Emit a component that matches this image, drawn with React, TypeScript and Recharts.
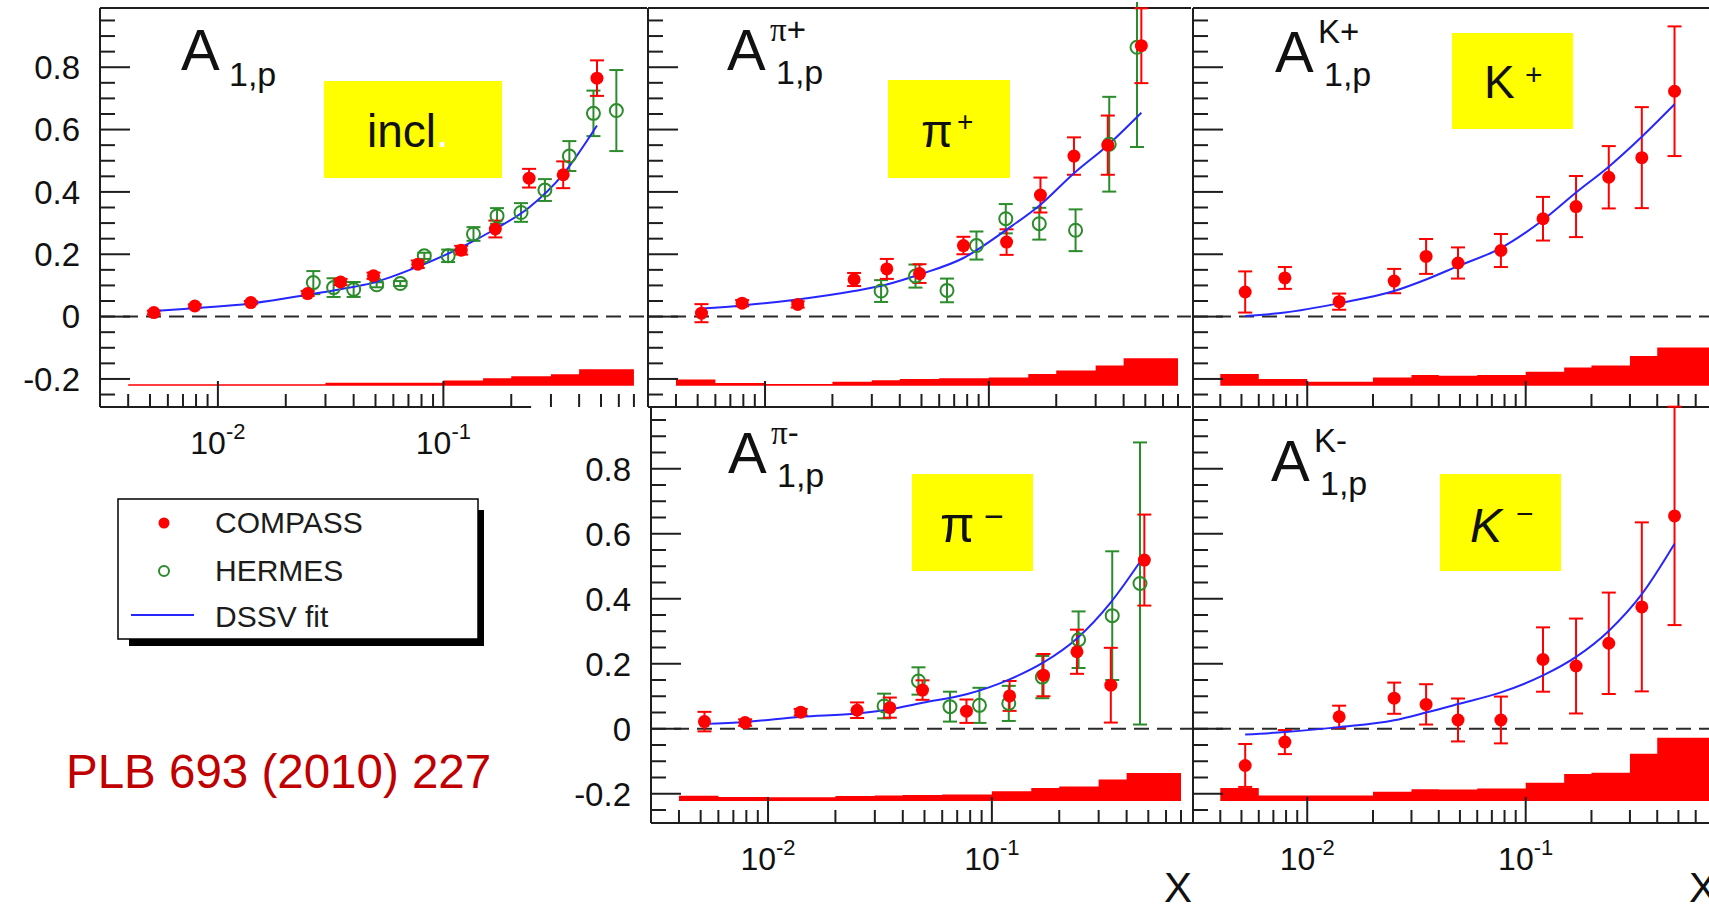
import React from "react";
import {
  ComposedChart,
  XAxis,
  YAxis,
  Scatter,
  Line,
  Area,
  ErrorBar,
  ReferenceLine,
} from "recharts";

const FONT = "'Liberation Sans', Arial, Helvetica, sans-serif";
const SERIF = "'Liberation Serif', 'Times New Roman', serif";
const RED = "#ff0000";
const GREEN = "#2b8c2b";
const BLUE = "#2626ff";
const AXIS = "#1e1e1e";
const INK = "#111111";

// axis setup shared by all panels
const X_DOMAIN = [0.003, 0.8];
const Y_DOMAIN = [-0.29, 0.99];
const Y_TICKS = [
  -0.25, -0.2, -0.15, -0.1, -0.05, 0, 0.05, 0.1, 0.15, 0.2, 0.25, 0.3, 0.35,
  0.4, 0.45, 0.5, 0.55, 0.6, 0.65, 0.7, 0.75, 0.8, 0.85, 0.9, 0.95,
];
const Y_MAJOR = [-0.2, 0, 0.2, 0.4, 0.6, 0.8];
const X_TICKS = [
  0.004, 0.005, 0.006, 0.007, 0.008, 0.009, 0.01, 0.02, 0.03, 0.04, 0.05,
  0.06, 0.07, 0.08, 0.09, 0.1, 0.2, 0.3, 0.4, 0.5, 0.6, 0.7,
];
const X_MAJOR = [0.01, 0.1];
const X_EXP = ["-2", "-1"];

// x bins
const COMPASS_X = [0.0052, 0.0079, 0.014, 0.025, 0.035, 0.049, 0.077, 0.12, 0.17, 0.24, 0.34, 0.48];
const HERMES_X_INCL = [0.0265, 0.0326, 0.04, 0.0506, 0.0644, 0.0823, 0.105, 0.136, 0.173, 0.221, 0.282, 0.362, 0.463, 0.585];
const HERMES_X_HAD = [0.033, 0.047, 0.065, 0.088, 0.119, 0.168, 0.244, 0.345, 0.459];
const SYS_EDGES = [0.004, 0.006, 0.01, 0.02, 0.03, 0.04, 0.06, 0.1, 0.15, 0.2, 0.3, 0.4, 0.7];
const SYS_BASE = -0.222;

// inclusive A1p
const INCL_C = [0.013, 0.034, 0.045, 0.074, 0.111, 0.131, 0.168, 0.213, 0.281, 0.444, 0.455, 0.765];
const INCL_C_ERR = [0.006, 0.005, 0.005, 0.008, 0.01, 0.01, 0.012, 0.014, 0.027, 0.03, 0.043, 0.057];
const INCL_H = [0.109, 0.093, 0.087, 0.102, 0.106, 0.195, 0.195, 0.265, 0.323, 0.334, 0.406, 0.515, 0.652, 0.661];
const INCL_H_ERR = [0.037, 0.03, 0.024, 0.008, 0.008, 0.01, 0.02, 0.022, 0.025, 0.03, 0.035, 0.048, 0.073, 0.13];
const INCL_FIT = [0.018, 0.027, 0.042, 0.07, 0.088, 0.109, 0.16, 0.222, 0.281, 0.35, 0.457, 0.613];
const INCL_SYS = [-0.217, -0.217, -0.217, -0.217, -0.212, -0.212, -0.212, -0.205, -0.198, -0.191, -0.185, -0.169];

// pi+
const PIP_C = [0.011, 0.043, 0.039, 0.119, 0.153, 0.138, 0.228, 0.239, 0.39, 0.515, 0.55, 0.869];
const PIP_C_ERR = [0.029, 0.01, 0.01, 0.021, 0.032, 0.03, 0.028, 0.041, 0.056, 0.06, 0.095, 0.12];
const PIP_H = [0.082, 0.13, 0.084, 0.228, 0.314, 0.298, 0.277, 0.553, 0.864];
const PIP_H_ERR = [0.035, 0.037, 0.038, 0.045, 0.047, 0.051, 0.067, 0.152, 0.32];
const PIP_FIT = [0.026, 0.036, 0.055, 0.082, 0.103, 0.135, 0.188, 0.279, 0.359, 0.46, 0.55, 0.654];
const PIP_SYS = [-0.202, -0.213, -0.216, -0.209, -0.204, -0.2, -0.198, -0.195, -0.184, -0.173, -0.157, -0.134];

// K+
const KP_C = [0.079, 0.124, 0.048, 0.114, 0.193, 0.172, 0.212, 0.314, 0.353, 0.447, 0.51, 0.723];
const KP_C_ERR = [0.066, 0.035, 0.026, 0.039, 0.056, 0.05, 0.053, 0.07, 0.098, 0.1, 0.162, 0.208];
const KP_FIT = [0.002, 0.013, 0.043, 0.082, 0.119, 0.162, 0.22, 0.31, 0.398, 0.481, 0.577, 0.681];
const KP_SYS = [-0.184, -0.2, -0.209, -0.195, -0.187, -0.19, -0.187, -0.177, -0.163, -0.157, -0.126, -0.099];

// pi-
const PIM_C = [0.022, 0.019, 0.051, 0.057, 0.065, 0.119, 0.054, 0.101, 0.165, 0.237, 0.134, 0.519];
const PIM_C_ERR = [0.03, 0.01, 0.01, 0.024, 0.031, 0.03, 0.036, 0.046, 0.065, 0.068, 0.115, 0.14];
const PIM_H = [0.07, 0.147, 0.068, 0.072, 0.078, 0.159, 0.274, 0.348, 0.447];
const PIM_H_ERR = [0.038, 0.042, 0.046, 0.054, 0.054, 0.065, 0.087, 0.198, 0.434];
const PIM_FIT = [0.015, 0.021, 0.037, 0.047, 0.06, 0.08, 0.106, 0.152, 0.204, 0.278, 0.389, 0.533];
const PIM_SYS = [-0.206, -0.21, -0.211, -0.207, -0.205, -0.204, -0.202, -0.192, -0.182, -0.178, -0.156, -0.136];

// K-
const KM_C = [-0.113, -0.041, 0.037, 0.094, 0.075, 0.027, 0.027, 0.213, 0.193, 0.263, 0.375, 0.655];
const KM_C_ERR = [0.066, 0.037, 0.034, 0.048, 0.062, 0.066, 0.072, 0.099, 0.146, 0.156, 0.26, 0.336];
const KM_FIT = [-0.018, -0.01, 0.005, 0.026, 0.05, 0.076, 0.112, 0.164, 0.221, 0.301, 0.414, 0.569];
const KM_SYS = [-0.182, -0.205, -0.205, -0.194, -0.186, -0.187, -0.184, -0.166, -0.139, -0.135, -0.077, -0.028];

const Y_W = 90;
const X_H = 70;
const M_T = 6;
const M_R = 6;

const pts = (xs: number[], ys: number[], errs: number[]) =>
  xs.map((x, i) => ({ x, y: ys[i], err: errs[i] }));
const curve = (xs: number[], ys: number[]) => xs.map((x, i) => ({ x, y: ys[i] }));
const steps = (vals: number[]) =>
  SYS_EDGES.map((x, i) => ({ x, y: vals[Math.min(i, vals.length - 1)] }));

function YTick(props: any) {
  const { x, y, payload, showLabel } = props;
  const v = payload.value;
  const major = Y_MAJOR.some((m) => Math.abs(m - v) < 1e-6);
  return (
    <g>
      <line x1={x} x2={x + (major ? 30 : 15)} y1={y} y2={y} stroke={AXIS} strokeWidth={2} />
      {showLabel && major && (
        <text x={x - 20} y={y} dy="0.36em" textAnchor="end" fontSize={33} fontFamily={FONT} fill={INK}>
          {v === 0 ? "0" : String(v)}
        </text>
      )}
    </g>
  );
}

function XTick(props: any) {
  const { x, y, payload, showLabel } = props;
  const v = payload.value;
  const k = X_MAJOR.findIndex((m) => Math.abs(m - v) < 1e-9);
  const major = k >= 0;
  return (
    <g>
      <line x1={x} x2={x} y1={y} y2={y - (major ? 26 : 13)} stroke={AXIS} strokeWidth={2} />
      {showLabel && major && (
        <text x={x} y={y + 47} textAnchor="middle" fontSize={32} fontFamily={FONT} fill={INK}>
          <tspan>10</tspan>
          <tspan dy={-15} fontSize={22}>{X_EXP[k]}</tspan>
        </text>
      )}
    </g>
  );
}

type PanelProps = {
  left: number;
  top: number;
  w: number;
  h: number;
  compass: number[];
  compassErr: number[];
  hermesX?: number[];
  hermes?: number[];
  hermesErr?: number[];
  fit: number[];
  sys: number[];
  yLabels?: boolean;
  xLabels?: boolean;
  topFrame?: boolean;
  axisEnd?: number;
};

function Panel(p: PanelProps) {
  const axisLine = { stroke: AXIS, strokeWidth: 2 };
  return (
    <div style={{ position: "absolute", left: p.left - Y_W, top: p.top - M_T }}>
      <ComposedChart
        width={Y_W + p.w + M_R}
        height={M_T + p.h + X_H}
        margin={{ top: M_T, right: M_R, bottom: 0, left: 0 }}
      >
        <XAxis
          type="number"
          dataKey="x"
          scale="log"
          domain={X_DOMAIN}
          ticks={X_TICKS}
          interval={0}
          height={X_H}
          tickSize={0}
          tickMargin={0}
          tickLine={false}
          axisLine={p.axisEnd ? false : axisLine}
          allowDataOverflow
          tick={(t: any) => <XTick {...t} showLabel={!!p.xLabels} />}
        />
        <YAxis
          type="number"
          domain={Y_DOMAIN}
          ticks={Y_TICKS}
          interval={0}
          width={Y_W}
          tickSize={0}
          tickMargin={0}
          tickLine={false}
          axisLine={axisLine}
          allowDataOverflow
          tick={(t: any) => <YTick {...t} showLabel={!!p.yLabels} />}
        />
        <Area
          data={steps(p.sys)}
          dataKey="y"
          type="stepAfter"
          baseValue={SYS_BASE}
          fill={RED}
          fillOpacity={1}
          stroke="none"
          isAnimationActive={false}
        />
        <ReferenceLine y={0} stroke="#2a2a2a" strokeWidth={2} strokeDasharray="15 8" />
        {p.topFrame && <ReferenceLine y={Y_DOMAIN[1]} stroke={AXIS} strokeWidth={2} />}
        {p.axisEnd && (
          <ReferenceLine
            segment={[
              { x: X_DOMAIN[0], y: Y_DOMAIN[0] },
              { x: p.axisEnd, y: Y_DOMAIN[0] },
            ]}
            stroke={AXIS}
            strokeWidth={2}
            ifOverflow="visible"
          />
        )}
        {p.hermes && p.hermesX && p.hermesErr && (
          <Scatter
            data={pts(p.hermesX, p.hermes, p.hermesErr)}
            dataKey="y"
            isAnimationActive={false}
            shape={(s: any) => (
              <circle cx={s.cx} cy={s.cy} r={6.5} fill="#ffffff" fillOpacity={0} stroke={GREEN} strokeWidth={2} />
            )}
          >
            <ErrorBar dataKey="err" direction="y" width={7} stroke={GREEN} strokeWidth={2} />
          </Scatter>
        )}
        <Scatter
          data={pts(COMPASS_X, p.compass, p.compassErr)}
          dataKey="y"
          isAnimationActive={false}
          shape={(s: any) => <circle cx={s.cx} cy={s.cy} r={6.5} fill={RED} />}
        >
          <ErrorBar dataKey="err" direction="y" width={7} stroke={RED} strokeWidth={2} />
        </Scatter>
        <Line
          data={curve(COMPASS_X, p.fit)}
          dataKey="y"
          type="monotone"
          stroke={BLUE}
          strokeWidth={2}
          dot={false}
          isAnimationActive={false}
        />
      </ComposedChart>
    </div>
  );
}

function Title({ x, y, greek, sign }: { x: number; y: number; greek: string; sign: string }) {
  const serif = greek === "π";
  return (
    <g fill={INK}>
      <text x={x} y={y} fontSize={58} fontFamily={FONT}>A</text>
      <text x={x + 43} y={y - 29} fontSize={33} fontFamily={FONT}>
        <tspan fontFamily={serif ? SERIF : FONT}>{greek}</tspan>
        <tspan>{sign}</tspan>
      </text>
      <text x={x + 49} y={y + 14} fontSize={34} fontFamily={FONT}>1,p</text>
    </g>
  );
}

export default function App() {
  return (
    <div
      style={{
        position: "fixed",
        left: 0,
        top: 0,
        width: 1709,
        height: 907,
        overflow: "hidden",
        background: "#ffffff",
        fontFamily: FONT,
      }}
    >
      <Panel left={100} top={8} w={547} h={399} compass={INCL_C} compassErr={INCL_C_ERR}
        hermesX={HERMES_X_INCL} hermes={INCL_H} hermesErr={INCL_H_ERR} fit={INCL_FIT} sys={INCL_SYS}
        yLabels xLabels topFrame axisEnd={0.245} />
      <Panel left={648} top={8} w={543} h={399} compass={PIP_C} compassErr={PIP_C_ERR}
        hermesX={HERMES_X_HAD} hermes={PIP_H} hermesErr={PIP_H_ERR} fit={PIP_FIT} sys={PIP_SYS} topFrame />
      <Panel left={1193} top={8} w={530} h={399} compass={KP_C} compassErr={KP_C_ERR}
        fit={KP_FIT} sys={KP_SYS} topFrame />
      <Panel left={651} top={407} w={543} h={416} compass={PIM_C} compassErr={PIM_C_ERR}
        hermesX={HERMES_X_HAD} hermes={PIM_H} hermesErr={PIM_H_ERR} fit={PIM_FIT} sys={PIM_SYS}
        yLabels xLabels />
      <Panel left={1193} top={407} w={530} h={416} compass={KM_C} compassErr={KM_C_ERR}
        fit={KM_FIT} sys={KM_SYS} xLabels />

      <svg width={1709} height={907} style={{ position: "absolute", left: 0, top: 0, pointerEvents: "none" }}>
        {/* panel titles */}
        <text x={181} y={70} fontSize={58} fontFamily={FONT} fill={INK}>A</text>
        <text x={229} y={86} fontSize={34} fontFamily={FONT} fill={INK}>1,p</text>
        <Title x={727} y={70} greek="π" sign="+" />
        <Title x={1275} y={72} greek="K" sign="+" />
        <Title x={728} y={473} greek="π" sign="-" />
        <Title x={1271} y={481} greek="K" sign="-" />

        {/* yellow labels */}
        <rect x={324} y={81} width={178} height={97} fill="#ffff00" />
        <text x={367} y={147} fontSize={46} fontFamily={FONT} fill={INK}>
          incl<tspan fill="#ffffff">.</tspan>
        </text>
        <rect x={888} y={80} width={122} height={98} fill="#ffff00" />
        <text x={921} y={147} fontSize={46} fontFamily={FONT} fill={INK}>π</text>
        <text x={957} y={131} fontSize={28} fontFamily={FONT} fill={INK}>+</text>
        <rect x={1452} y={33} width={121} height={96} fill="#ffff00" />
        <text x={1484} y={98} fontSize={46} fontFamily={FONT} fill={INK}>K</text>
        <text x={1525} y={85} fontSize={30} fontFamily={FONT} fill={INK}>+</text>
        <rect x={912} y={474} width={121} height={97} fill="#ffff00" />
        <text x={940} y={542} fontSize={50} fontFamily={FONT} fill={INK}>π</text>
        <text x={984} y={528} fontSize={34} fontFamily={FONT} fill={INK}>−</text>
        <rect x={1440} y={474} width={121} height={97} fill="#ffff00" />
        <text x={1470} y={542} fontSize={48} fontStyle="italic" fontFamily={FONT} fill={INK}>K</text>
        <text x={1516} y={524} fontSize={30} fontFamily={FONT} fill={INK}>−</text>

        {/* legend */}
        <rect x={129} y={510} width={355} height={136} fill="#000000" />
        <rect x={118} y={499} width={360} height={140} fill="#ffffff" stroke="#000000" strokeWidth={1.5} />
        <circle cx={164} cy={523} r={5.5} fill={RED} />
        <text x={215} y={533} fontSize={30} fontFamily={FONT} fill="#1c1c1c">COMPASS</text>
        <circle cx={164} cy={571} r={5} fill="none" stroke={GREEN} strokeWidth={2} />
        <text x={215} y={581} fontSize={30} fontFamily={FONT} fill="#1c1c1c">HERMES</text>
        <line x1={131} x2={194} y1={615} y2={615} stroke={BLUE} strokeWidth={2} />
        <text x={215} y={627} fontSize={30} fontFamily={FONT} fill="#1c1c1c">DSSV fit</text>

        <text x={66} y={788} fontSize={47.5} fontFamily={FONT} fill="#c00000">PLB 693 (2010) 227</text>

        <text x={1164} y={902} fontSize={42} fontFamily={FONT} fill={INK}>X</text>
        <text x={1689} y={902} fontSize={42} fontFamily={FONT} fill={INK}>X</text>
      </svg>
    </div>
  );
}
